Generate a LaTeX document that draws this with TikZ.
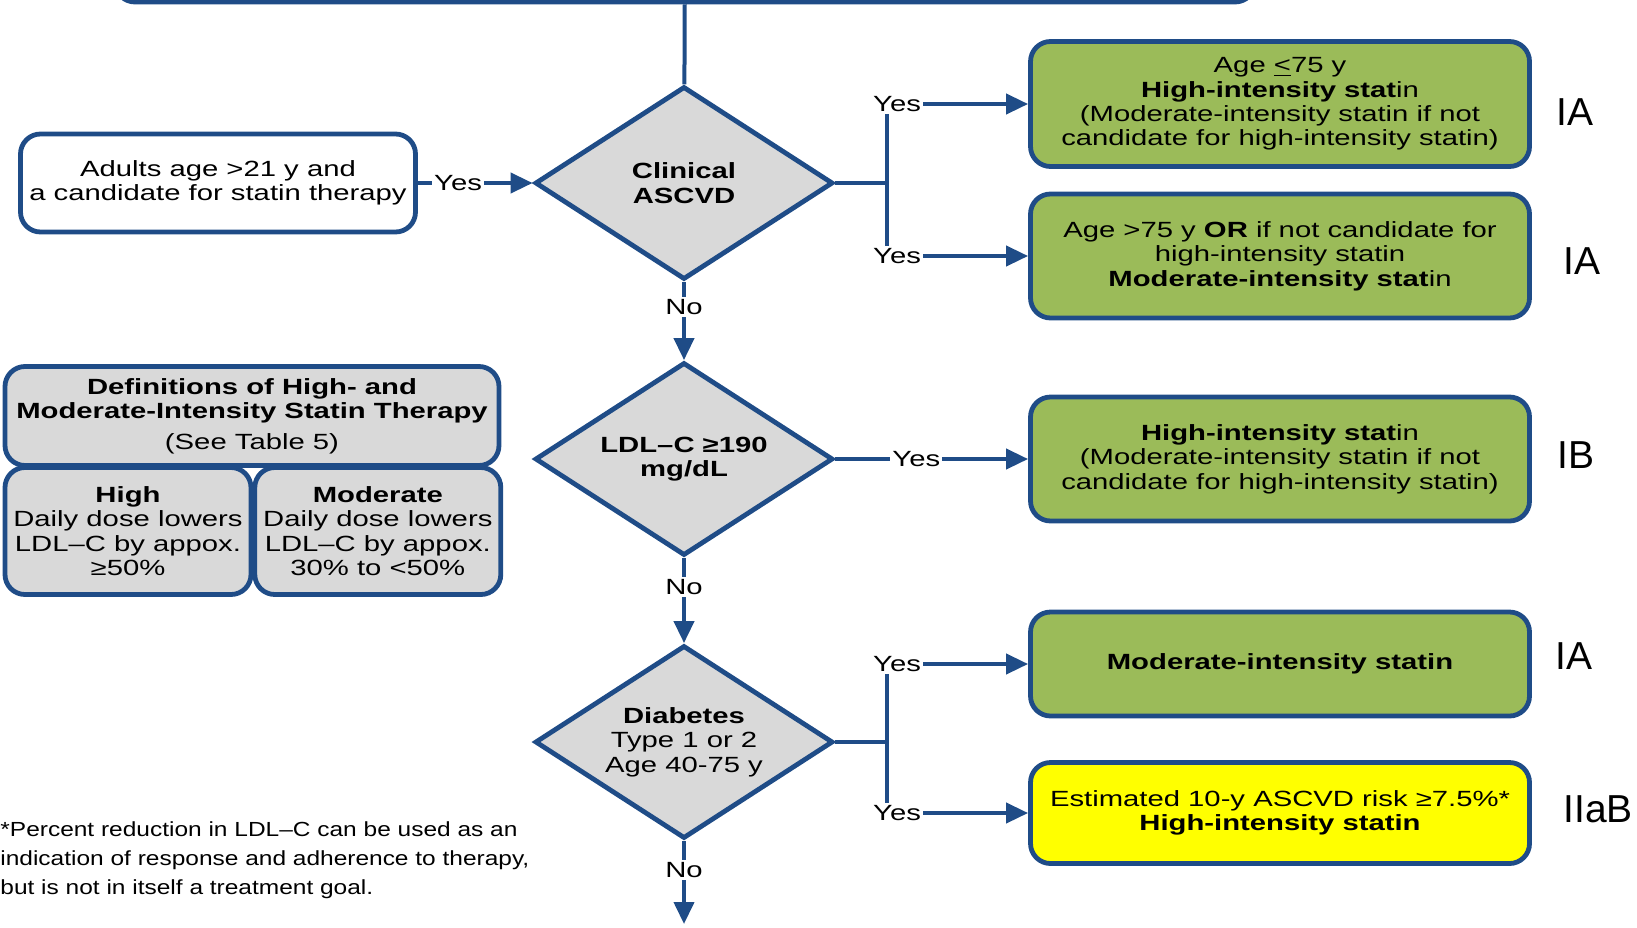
\documentclass[tikz,border=0pt]{standalone}
\usepackage{fontspec}
\setmainfont{Liberation Sans}[FakeStretch=1.33]
\newfontfamily\notefont{Liberation Sans}[FakeStretch=1.2]
\newfontfamily\gradefont{Liberation Sans}
\usetikzlibrary{arrows.meta,shapes.geometric,positioning}

\definecolor{lineblue}{RGB}{31,76,135}
\definecolor{recgreen}{RGB}{155,187,89}
\definecolor{decgray}{RGB}{217,217,217}
\definecolor{recyellow}{RGB}{255,255,0}

\begin{document}
\begin{tikzpicture}[x=0.5pt, y=-0.5pt, >={Triangle[length=11pt,width=10pt]},
	font=\fontsize{11}{12.2}\selectfont,
	box/.style={draw=lineblue, line width=2.4pt, rounded corners=10pt, align=center, inner sep=2pt},
	action/.style={box, fill=recgreen, minimum width=249.5pt},
	decision/.style={diamond, aspect=1.55, draw=lineblue, line width=2.4pt, fill=decgray, minimum width=149pt, minimum height=96.5pt, inner sep=0pt, align=center},
	grade/.style={font=\gradefont\fontsize{19.5}{22}\selectfont},
	lbl/.style={fill=white, inner sep=1pt},
	flow/.style={draw=lineblue, line width=2pt}]
	\useasboundingbox (0,0) rectangle (1637,927);

	% Box above, cut off by the page edge
	\begin{scope}
		\clip (0,0) rectangle (1637,927);
		\node [box, minimum width=570pt, minimum height=60pt] (prev) at (685,-58) {};
	\end{scope}

	% Nodes
	\node [box, minimum width=197.5pt, minimum height=49pt] (adults) at (218,183) {Adults age >21 y and\\a candidate for statin therapy};
	\node [decision] (ascvd) at (684,183) {\textbf{Clinical}\\\textbf{ASCVD}};
	\node [decision] (ldl)   at (684,459) {\textbf{LDL–C ≥190}\\\textbf{mg/dL}};
	\node [decision] (diab)  at (684,742) {\textbf{Diabetes}\\Type 1 or 2\\Age 40-75 y};

	\node [action, minimum height=62.5pt] (highA) at (1280,104) {Age \underline{<}75 y\\\textbf{High-intensity stat}in\\(Moderate-intensity statin if not\\candidate for high-intensity statin)};
	\node [action, minimum height=62pt] (modA)  at (1280,256) {Age >75 y \textbf{OR} if not candidate for\\high-intensity statin\\\textbf{Moderate-intensity stat}in};
	\node [action, minimum height=62pt] (highB) at (1280,459) {\textbf{High-intensity stat}in\\(Moderate-intensity statin if not\\candidate for high-intensity statin)};
	\node [action, minimum height=52pt] (modD)  at (1280,664) {\textbf{Moderate-intensity statin}};
	\node [action, fill=recyellow, minimum height=50.5pt] (risk) at (1280,813) {Estimated 10-y ASCVD risk ≥7.5\%*\\\textbf{High-intensity statin}};

	% Grades
	\node [grade] (gr1) at (1575,112) {IA};
	\node [grade] (gr2) at (1582,261) {IA};
	\node [grade] (gr3) at (1576,455) {IB};
	\node [grade] (gr4) at (1574,656) {IA};
	\node [grade] (gr5) at (1598,809) {IIaB};

	% Definitions
	\node [box, fill=decgray, minimum width=247pt, minimum height=49.5pt] (defs) at (252,416) {\textbf{Definitions of High- and}\\\textbf{Moderate-Intensity Statin Therapy}\\[3pt](See Table 5)};
	\node [box, fill=decgray, minimum width=123pt, minimum height=63.5pt, inner sep=1pt] (high) at (128,531) {\textbf{High}\\Daily dose lowers\\LDL–C by appox.\\≥50\%};
	\node [box, fill=decgray, minimum width=123pt, minimum height=63.5pt, inner sep=1pt] (moderate) [right=-0.5pt of high] {\textbf{Moderate}\\Daily dose lowers\\LDL–C by appox.\\30\% to <50\%};

	\node [anchor=north west, inner sep=0pt, align=left, font=\notefont\fontsize{10.2}{14.5}\selectfont] (note) at (0,821) {*Percent reduction in LDL–C can be used as an\\indication of response and adherence to therapy,\\but is not in itself a treatment goal.};

	% Paths
	\coordinate (j1) at (887,183);
	\coordinate (j3) at (887,742);
	\coordinate (out) at (684,924);

	\draw [flow] (prev) -- (ascvd);
	\draw [flow, ->] (adults) -- node [lbl, pos=0.35] {Yes} (ascvd);
	\draw [flow] (ascvd) -- (j1);
	\draw [flow, ->] (j1) |- node [lbl, pos=0.5, xshift=5pt] {Yes} (highA);
	\draw [flow, ->] (j1) |- node [lbl, pos=0.5, xshift=5pt] {Yes} (modA);
	\draw [flow, ->] (ascvd) -- node [lbl, pos=0.32] {No} (ldl);
	\draw [flow, ->] (ldl) -- node [lbl, pos=0.42] {Yes} (highB);
	\draw [flow, ->] (ldl) -- node [lbl, pos=0.34] {No} (diab);
	\draw [flow] (diab) -- (j3);
	\draw [flow, ->] (j3) |- node [lbl, pos=0.5, xshift=5pt] {Yes} (modD);
	\draw [flow, ->] (j3) |- node [lbl, pos=0.5, xshift=5pt] {Yes} (risk);
	\draw [flow, ->] (diab) -- node [lbl, pos=0.35] {No} (out);

\end{tikzpicture}
\end{document}
